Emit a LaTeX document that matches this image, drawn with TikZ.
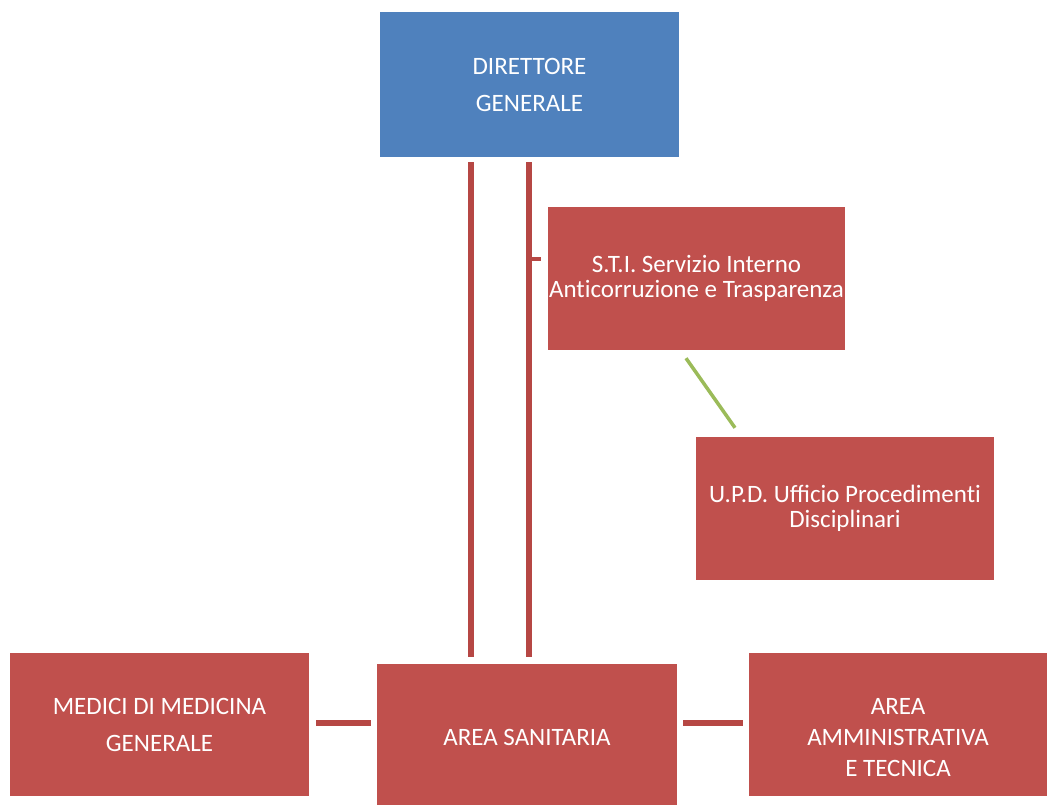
\documentclass[tikz,border=0pt]{standalone}
\usepackage{fontspec}
\setmainfont{Carlito}
\usetikzlibrary{calc}
\definecolor{dgblue}{HTML}{4F81BD}
\definecolor{boxred}{HTML}{C0504D}
\definecolor{linered}{HTML}{B64744}
\definecolor{lnkgreen}{HTML}{9BBB59}
\tikzset{
  orgbox/.style={rectangle, inner sep=0pt, minimum width=298pt, minimum height=143pt, text=white, align=center},
  redbox/.style={orgbox, fill=boxred},
  bluebox/.style={orgbox, fill=dgblue},
  capsfont/.style={font=\fontsize{25}{37}\selectfont},
  tightfont/.style={font=\fontsize{25}{25}\selectfont},
  aatfont/.style={font=\fontsize{25}{31}\selectfont},
  conn/.style={draw=linered, line width=5.5pt},
  tick/.style={draw=linered, line width=4pt},
  greenlink/.style={draw=lnkgreen, line width=3.5pt},
  plaintext/.style={text=white, align=center, inner sep=0pt}
}
\begin{document}
\begin{tikzpicture}[x=1pt, y=-1pt]
\useasboundingbox (0,0) rectangle (1052,805);
\clip (0,0) rectangle (1052,805);
\fill[white] (0,0) rectangle (1052,805);

% boxes
\node[bluebox, capsfont, minimum width=299pt, minimum height=145pt] (dg) at (529.5,84.5) {DIRETTORE\\GENERALE};
\node[redbox, tightfont, minimum width=297pt] (sti) at (696.5,278.5) {S.T.I. Servizio Interno\\Ant\kern0pt i\kern0pt corruzione e Trasparenza};
\node[redbox, tightfont] (upd) at (845,508.5) {U.P.D. Ufficio Procediment\kern0pt i\\Disciplinari};
\node[redbox, capsfont, minimum width=299pt] (mmg) at (159.5,724.5) {MEDICI DI MEDICINA\\GENERALE};
\node[redbox, capsfont, minimum width=300pt, minimum height=146pt] (as) at (527,737) {AREA SANITARIA};
\node[redbox] (aat) at (898,724.5) {};
\node[plaintext, aatfont] (aattext) at ([yshift=-13.5pt]aat.center) {AREA\\AMMINISTRATIVA\\E TECNICA};

% connectors
\draw[conn] ([xshift=-58.5pt,yshift=-5pt]dg.south) -- ([xshift=-56pt,yshift=7pt]as.north);
\draw[conn] ([xshift=-0.5pt,yshift=-5pt]dg.south) -- ([xshift=2pt,yshift=7pt]as.north);
\draw[tick] ([xshift=-7pt,yshift=19.5pt]sti.west) -- ([xshift=-19pt,yshift=19.5pt]sti.west);
\draw[greenlink] ([xshift=-10.5pt,yshift=-8pt]sti.south) -- ([xshift=-110pt,yshift=9pt]upd.north);
\draw[conn] ([xshift=7pt,yshift=1.5pt]mmg.east) -- ([xshift=-6pt,yshift=14pt]as.west);
\draw[conn] ([xshift=6pt,yshift=14pt]as.east) -- ([xshift=-6pt,yshift=1.5pt]aat.west);
\end{tikzpicture}
\end{document}
